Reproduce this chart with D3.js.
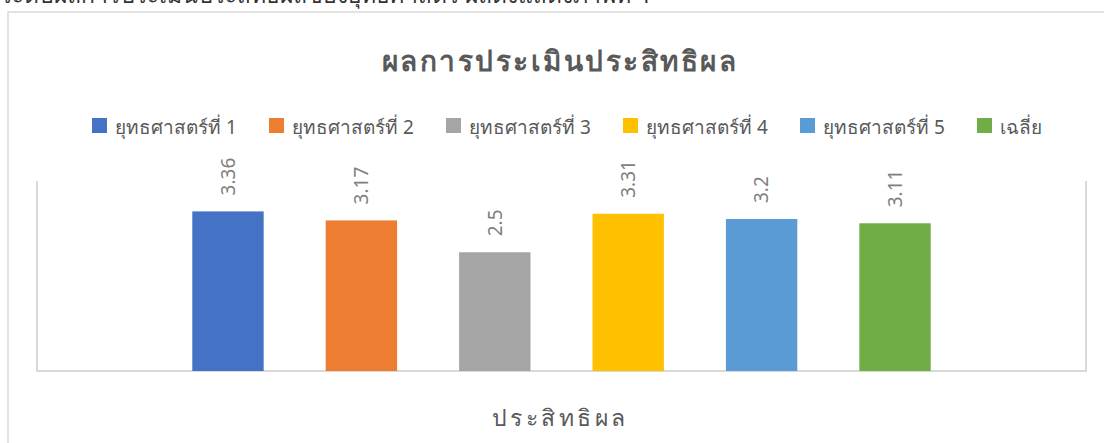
<!DOCTYPE html>
<html>
    <head>
        <meta charset="utf-8">
        <script type="text/javascript" src="https://cdn.jsdelivr.net/npm/d3@7"></script>
        <style type="text/css">
            body { margin: 0; background: #fff; }
            text {
                font-family: "Noto Sans", "DejaVu Sans", sans-serif;
                fill: #595959;
            }
        </style>
    </head>
    <body>
        <script type="text/javascript">

            // Data
            var series = ["ยุทธศาสตร์ที่ 1", "ยุทธศาสตร์ที่ 2", "ยุทธศาสตร์ที่ 3",
                          "ยุทธศาสตร์ที่ 4", "ยุทธศาสตร์ที่ 5", "เฉลี่ย"];
            var values = [3.36, 3.17, 2.5, 3.31, 3.2, 3.11];
            var colors = ["#4472C4", "#ED7D31", "#A5A5A5", "#FFC000", "#5B9BD5", "#70AD47"];
            var category = "ประสิทธิผล";
            var title = "ผลการประเมินประสิทธิผล";

            var w = 1104, h = 443;
            var plot = {left: 37, right: 1086, top: 181, bottom: 371};

            var svg = d3.select("body")
                        .append("svg")
                        .attr("width", w)
                        .attr("height", h);

            // paragraph text above the chart (cut off by the page edge, as in the source)
            svg.append("text")
                .attr("x", 0)
                .attr("y", 3)
                .style("font-size", "23px")
                .style("fill", "#333")
                .text("ระดับผลการประเมินประสิทธิผลของยุทธศาสตร์ ผลดังแสดงภาพที่ 4");

            // outer chart frame
            svg.append("rect")
                .attr("x", 8)
                .attr("y", 12)
                .attr("width", w + 20)
                .attr("height", h + 20)
                .attr("fill", "none")
                .attr("stroke", "#d9d9d9")
                .attr("stroke-width", 1.5);

            // scales
            var x = d3.scaleBand()
                      .domain(series)
                      .range([plot.left, plot.right])
                      .paddingInner(0.465)
                      .paddingOuter(1.164);

            var y = d3.scaleLinear()
                      .domain([0, 4])
                      .range([plot.bottom, plot.top]);

            // plot area borders (left, right, bottom)
            svg.append("path")
                .attr("d", "M" + plot.left + "," + plot.top + "V" + plot.bottom +
                           "H" + plot.right + "V" + plot.top)
                .attr("fill", "none")
                .attr("stroke", "#d9d9d9")
                .attr("stroke-width", 2);

            // bars
            svg.selectAll("rect.bar")
                .data(values)
                .enter()
                .append("rect")
                .attr("class", "bar")
                .attr("x", function(d, i) { return x(series[i]); })
                .attr("y", function(d) { return y(d); })
                .attr("width", x.bandwidth())
                .attr("height", function(d) { return y(0) - y(d); })
                .attr("fill", function(d, i) { return colors[i]; });

            // rotated value labels
            svg.selectAll("text.label")
                .data(values)
                .enter()
                .append("text")
                .attr("class", "label")
                .attr("transform", function(d, i) {
                    var cx = x(series[i]) + x.bandwidth() / 2;
                    return "translate(" + cx + "," + (y(d) - 16) + ") rotate(-90)";
                })
                .attr("dy", "0.36em")
                .style("font-size", "19px")
                .style("fill", "#7f7f7f")
                .text(function(d) { return d; });

            // title
            svg.append("text")
                .attr("x", 560)
                .attr("y", 71)
                .attr("text-anchor", "middle")
                .style("font-size", "28px")
                .style("font-weight", "bold")
                .style("letter-spacing", "2.5px")
                .text(title);

            // legend
            var legend = svg.selectAll("g.legend")
                            .data(series)
                            .enter()
                            .append("g")
                            .attr("class", "legend")
                            .attr("transform", function(d, i) {
                                return "translate(" + (92 + i * 177) + ",118)";
                            });

            legend.append("rect")
                .attr("width", 15)
                .attr("height", 15)
                .attr("fill", function(d, i) { return colors[i]; });

            legend.append("text")
                .attr("x", 23)
                .attr("y", 16)
                .style("font-size", "19px")
                .text(function(d) { return d; });

            // axis title
            svg.append("text")
                .attr("x", 560)
                .attr("y", 426)
                .attr("text-anchor", "middle")
                .style("font-size", "23px")
                .style("letter-spacing", "3.5px")
                .text(category);

        </script>
    </body>
</html>
